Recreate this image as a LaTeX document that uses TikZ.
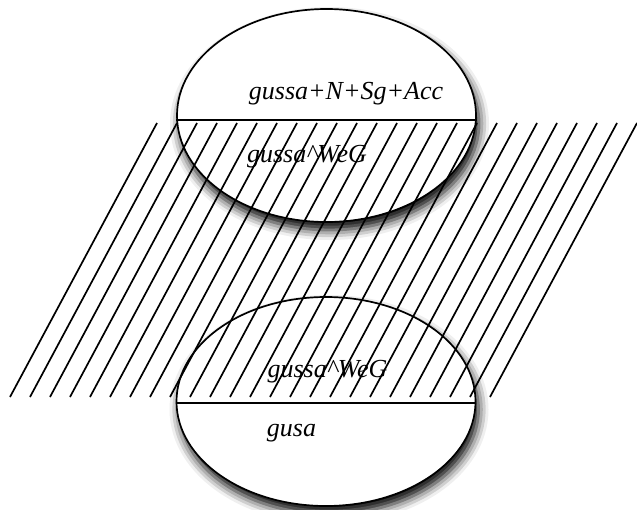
\documentclass[tikz,border=0pt]{standalone}
\usepackage{fontspec}
\setmainfont{Liberation Serif}
\usetikzlibrary{shapes.geometric,calc,shadows.blur}

\begin{document}
\begin{tikzpicture}[
  x=1pt,y=-1pt,
  form/.style={ellipse,draw,line width=1.7pt,fill=white,minimum width=299pt,minimum height=#1,inner sep=0pt,
    blur shadow={shadow xshift=3pt,shadow yshift=-8pt,shadow blur radius=10pt,shadow opacity=100}},
  cut/.style={line width=1.7pt},
  hatch/.style={line width=1.7pt},
  word/.style={anchor=base,inner sep=0pt,font=\fontsize{26}{30}\selectfont\itshape},
]
\useasboundingbox (0,0) rectangle (637,509);

% === Forms (upper and lower) ===
\node[form=213pt] (upper) at (326.5,115.5) {};
\node[form=209pt] (lower) at (326,401.5) {};

% === Dividing lines ===
\draw[cut] ($(upper.west)+(0,4.5)$) -- ($(upper.east)+(0,4.5)$);
\draw[cut] ($(lower.west)+(0,1.5)$) -- ($(lower.east)+(0,1.5)$);

% === Labels ===
\node[word] (acc) at (346,99) {gussa+N+Sg+Acc};
\node[word] (weg1) at (307,162) {gussa\textasciicircum WeG};
\node[word] (weg2) at (327.5,377) {gussa\textasciicircum WeG};
\node[word] (gusa) at (291.5,436) {gusa};

% === Hatched band ===
\foreach \k in {0,...,24}
  \draw[hatch] ({10+20*\k},397) -- ({157+20*\k},123);

\end{tikzpicture}
\end{document}
